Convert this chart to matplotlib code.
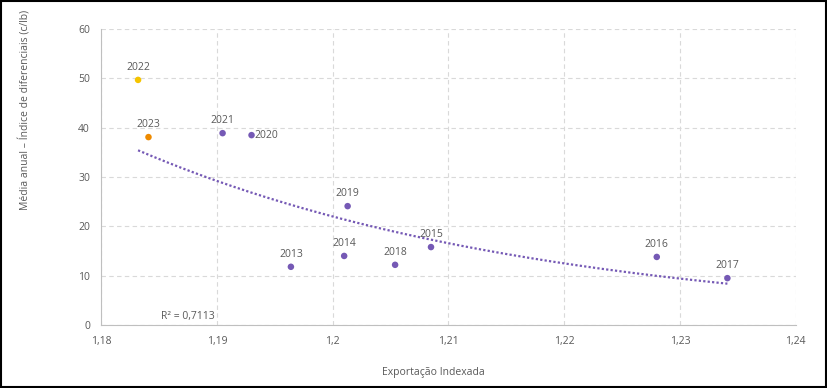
import matplotlib.pyplot as plt
import numpy as np
from matplotlib.patches import Rectangle

# Data
years = ['2022', '2023', '2021', '2020', '2019', '2013', '2014', '2018', '2015', '2016', '2017']
export_idx = [1.1832, 1.1841, 1.1905, 1.1930, 1.2013, 1.1964, 1.2010, 1.2054, 1.2085, 1.2280, 1.2341]
diff_idx = [49.7, 38.1, 38.9, 38.5, 24.1, 11.8, 14.0, 12.2, 15.8, 13.8, 9.5]
point_colors = ['#F5C400', '#EE8A00'] + ['#7559B5'] * 9

plt.rcParams['font.family'] = ['Open Sans', 'DejaVu Sans']
text_color = '#595959'

fig = plt.figure(figsize=(8.28, 3.88), dpi=100)
ax = fig.add_axes([0.122, 0.1624, 0.839, 0.7626])

ax.scatter(export_idx, diff_idx, c=point_colors, s=22, zorder=3, linewidths=0)

# exponential trend line
x = np.array(export_idx)
y = np.array(diff_idx)
b, log_a = np.polyfit(x, np.log(y), 1)
xs = np.linspace(x.min(), x.max(), 200)
ax.plot(xs, np.exp(log_a + b * xs), color='#7559B5', linestyle=(0, (1, 1)),
        linewidth=1.6, zorder=2)

for yr, xv, yv in zip(years, export_idx, diff_idx):
    if yr == '2020':
        ax.annotate(yr, (xv, yv), xytext=(2, -4), textcoords='offset points',
                    ha='left', va='bottom', fontsize=7.5, color=text_color)
    else:
        ax.annotate(yr, (xv, yv), xytext=(0, 5), textcoords='offset points',
                    ha='center', va='bottom', fontsize=7.5, color=text_color)

ax.text(1.1852, 1.2, 'R² = 0,7113', fontsize=7.5, color=text_color)

ax.set_xlim(1.18, 1.24)
ax.set_ylim(0, 60)
ax.set_xticks([1.18, 1.19, 1.20, 1.21, 1.22, 1.23, 1.24])
ax.set_xticklabels(['1,18', '1,19', '1,2', '1,21', '1,22', '1,23', '1,24'])
ax.set_yticks(range(0, 61, 10))
ax.tick_params(length=0, labelsize=7.5, colors=text_color, pad=8)
ax.grid(True, color='#d9d9d9', linestyle=(0, (4, 3)), linewidth=0.8)
ax.set_axisbelow(True)
for side in ['top', 'right']:
    ax.spines[side].set_visible(False)
for side in ['left', 'bottom']:
    ax.spines[side].set_color('#bfbfbf')

fig.text(0.523, 0.041, 'Exportação Indexada', ha='center', va='center',
         fontsize=7.5, color=text_color)
fig.text(0.031, 0.716, 'Média anual – Índice de diferenciais (c/lb)', rotation=90,
         ha='center', va='center', fontsize=7.5, color=text_color)

fig.patches.append(Rectangle((0.001, 0.002), 0.997, 0.995, transform=fig.transFigure,
                             fill=False, edgecolor='black', linewidth=1.5))

plt.savefig('out.png', dpi=100)
plt.close()
